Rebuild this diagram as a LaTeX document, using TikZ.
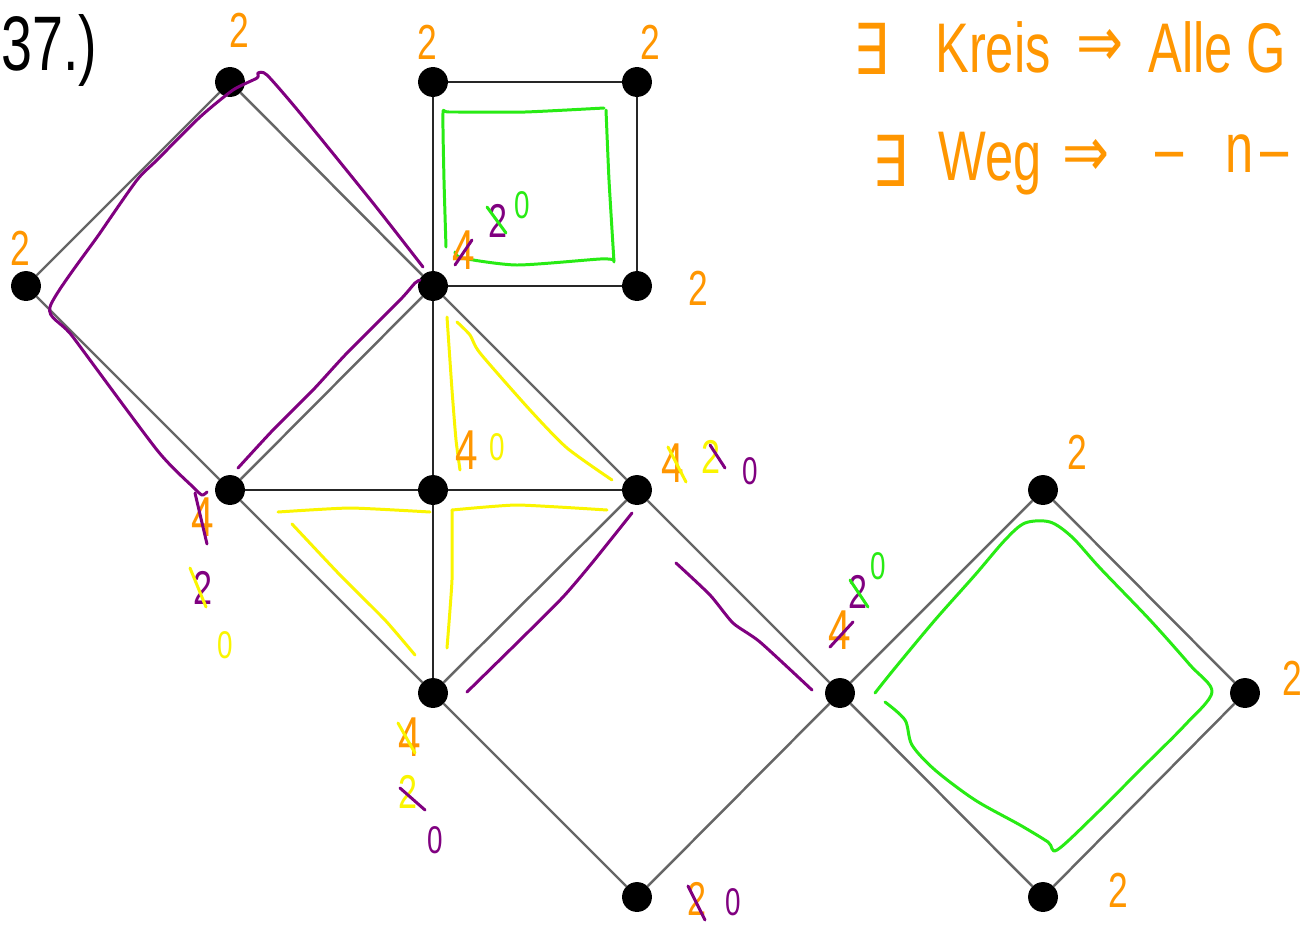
\documentclass[tikz,border=0pt]{standalone}
\usepackage{fontspec}
\newfontfamily\hand[FakeStretch=0.72]{Liberation Sans}
\newfontfamily\sym[FakeStretch=0.8]{DejaVu Sans}
\definecolor{orng}{RGB}{255,150,0}
\definecolor{purp}{RGB}{128,0,128}
\definecolor{grn}{RGB}{40,235,20}
\definecolor{yel}{RGB}{250,245,0}
\tikzset{
  vtx/.style={circle,fill=black,inner sep=0pt,minimum size=17pt},
  diag/.style={black!60,line width=1.4pt},
  axis/.style={black!85,line width=1.3pt},
  pen/.style={line width=1.7pt,line cap=round,line join=round},
  big/.style={inner sep=0pt,text=orng,font=\hand\fontsize{28}{28}\selectfont},
  four/.style={inner sep=0pt,font=\hand\fontsize{32}{32}\selectfont},
  mid/.style={inner sep=0pt,font=\hand\fontsize{27}{27}\selectfont},
  sml/.style={inner sep=0pt,font=\hand\fontsize{22}{22}\selectfont},
  head/.style={inner sep=0pt,text=orng,font=\hand\fontsize{40}{40}\selectfont},
  headsym/.style={inner sep=0pt,text=orng,font=\sym\fontsize{40}{40}\selectfont}
}
\begin{document}
\begin{tikzpicture}[x=0.02cm,y=-0.02cm]
\useasboundingbox (0,0) rectangle (1309,924);
\fill[white] (0,0) rectangle (1309,924);
\clip (0,0) rectangle (1309,924);

% vertices
\foreach \n/\x/\y in {a/230/82, b/433/82, c/637/82, d/26/286, e/433/286, f/637/286,
  g/230/490, h/433/490, i/637/490, j/1043/490, k/433/693, l/840/693, m/1245/693,
  n/637/897, o/1043/897}
  \node[vtx] (\n) at (\x,\y) {};

% edges
\foreach \p/\q in {a/d, a/e, d/g, g/e, e/i, g/k, k/i, i/l, k/n, n/l, l/j, j/m, m/o, o/l}
  \draw[diag] (\p) -- (\q);
\foreach \p/\q in {b/c, c/f, f/e, e/b, e/h, g/h, h/i, h/k}
  \draw[axis] (\p) -- (\q);

% title
\node[inner sep=0pt,anchor=west,font=\hand\fontsize{44}{44}\selectfont] (title) at (1,50) {37.)};

% heading lines
\node[headsym,anchor=base] (ex1) at (871,74) {∃};
\node[head,anchor=base west] (kreis) at (935,72) {Kreis};
\node[headsym,anchor=base] (imp1) at (1100,66) {⇒};
\node[head,anchor=base west] (alle) at (1148,72) {Alle G};
\node[headsym,anchor=base] (ex2) at (890,186) {∃};
\node[head,anchor=base west] (weg) at (938,180) {Weg};
\node[headsym,anchor=base] (imp2) at (1086,176) {⇒};
\node[head,anchor=base west] (ditto) at (1155,172) {–\hspace{0.6em}n\hspace{0.1em}–};

% orange degree labels
\foreach \nm/\x/\y in {la/239/30, lb/427/42, lc/650/42, ld/20/248, lf/698/288,
  lj/1077/452, lm/1292/678, lo/1118/890}
  \node[big] (\nm) at (\x,\y) {2};

% purple route around left square
\draw[pen,purp] plot[smooth,tension=0.4] coordinates {(423,267) (373,203) (300,113) (267,75) (258,73) (257,78) (233,90) (200,117) (157,160) (137,180) (100,233) (50,307) (73,337) (157,450) (193,487) (202,495) (207,492)};
\draw[pen,purp] plot[smooth,tension=0.4] coordinates {(238,468) (273,430) (313,390) (347,353) (400,300) (415,283) (420,280)};
\draw[pen,purp] plot[smooth,tension=0.4] coordinates {(467,692) (520,640) (563,597) (592,563) (632,513)};
\draw[pen,purp] plot[smooth,tension=0.4] coordinates {(676,563) (710,595) (733,623) (760,642) (812,690)};

% green cycles
\draw[pen,grn] plot[smooth,tension=0.3] coordinates {(446,247) (444,180) (443,113) (449,112) (525,112) (604,108)};
\draw[pen,grn] plot[smooth,tension=0.3] coordinates {(606,110) (609,180) (614,262)};
\draw[pen,grn] plot[smooth,tension=0.4] coordinates {(455,252) (462,258) (517,265) (600,259) (614,260)};
\draw[pen,grn] plot[smooth,tension=0.5] coordinates {(875,693) (895,668) (935,620) (975,575) (1005,540) (1025,523) (1050,522) (1072,537) (1100,568) (1150,620) (1190,665) (1212,692) (1185,725) (1140,770) (1095,815) (1057,850) (1048,842) (1020,825) (975,800) (935,770) (912,745) (905,720) (885,702)};

% yellow strokes
\draw[pen,yel] plot[smooth,tension=0.3] coordinates {(447,317) (452,390) (456,440) (460,470)};
\draw[pen,yel] plot[smooth,tension=0.4] coordinates {(457,322) (470,335) (480,353) (530,410) (567,448) (612,480)};
\draw[pen,yel] plot[smooth,tension=0.3] coordinates {(452,510) (517,505) (607,510)};
\draw[pen,yel] plot[smooth,tension=0.3] coordinates {(452,510) (452,580) (447,648)};
\draw[pen,yel] plot[smooth,tension=0.3] coordinates {(278,512) (350,508) (430,512)};
\draw[pen,yel] plot[smooth,tension=0.3] coordinates {(292,524) (340,575) (385,620) (415,655)};

% counter annotations: near e
\node[four,text=orng] (ce4) at (464,250) {4};
\draw[pen,purp] (455,265) -- (472,240);
\node[mid,text=purp] (ce2) at (498,221) {2};
\draw[pen,grn] (487,207) -- (506,233);
\node[sml,text=grn] (ce0) at (522,205) {0};
% near i
\node[four,text=orng] (ci4) at (673,463) {4};
\draw[pen,yel] (668,447) -- (686,482);
\node[mid,text=yel] (ci2) at (711,457) {2};
\draw[pen,purp] (710,445) -- (725,468);
\node[sml,text=purp] (ci0) at (750,471) {0};
% near g
\node[four,text=orng] (cg4) at (203,517) {4};
\draw[pen,purp] (195,493) -- (207,544);
\node[mid,text=purp] (cg2) at (203,588) {2};
\draw[pen,yel] (190,568) -- (206,607);
\node[sml,text=yel] (cg0) at (225,645) {0};
% near k
\node[four,text=orng] (ck4) at (410,737) {4};
\draw[pen,yel] (398,723) -- (415,753);
\node[mid,text=yel] (ck2) at (408,792) {2};
\draw[pen,purp] (400,788) -- (425,810);
\node[sml,text=purp] (ck0) at (435,840) {0};
% near l
\node[four,text=orng] (cl4) at (840,630) {4};
\draw[pen,purp] (830,647) -- (853,622);
\node[mid,text=purp] (cl2) at (858,592) {2};
\draw[pen,grn] (850,580) -- (868,607);
\node[sml,text=grn] (cl0) at (878,566) {0};
% near n
\node[mid,text=orng] (cn2) at (697,899) {2};
\draw[pen,purp] (688,886) -- (705,920);
\node[sml,text=purp] (cn0) at (733,902) {0};
% near h
\node[four,text=orng] (ch4) at (467,450) {4};
\node[sml,text=yel] (ch0) at (497,447) {0};
\end{tikzpicture}
\end{document}
